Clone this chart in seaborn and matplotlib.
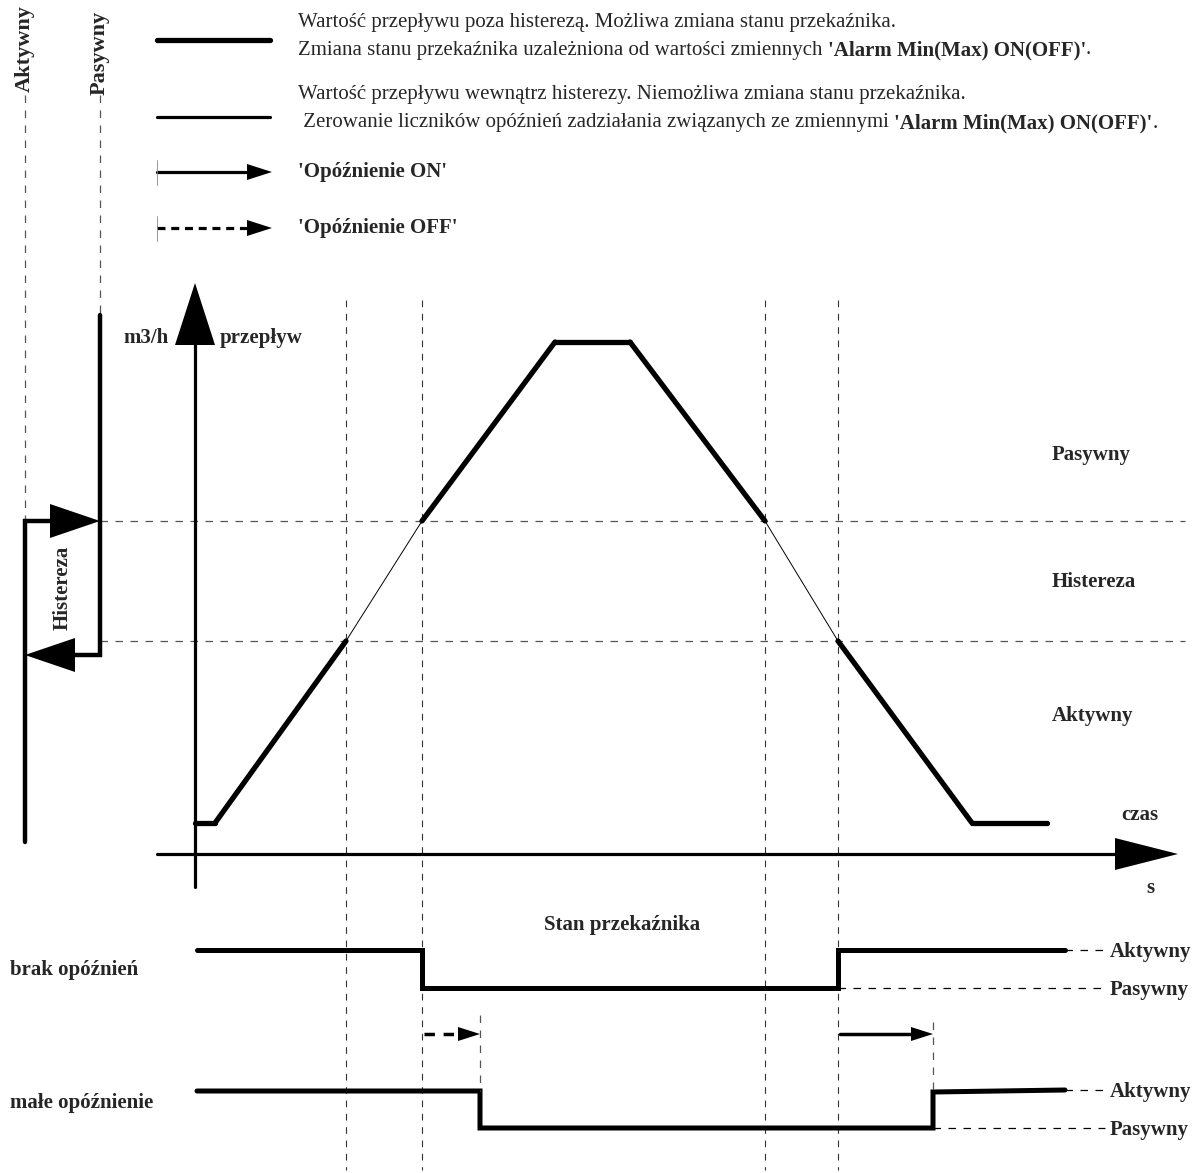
import matplotlib
matplotlib.use("Agg")
import matplotlib.pyplot as plt
import seaborn as sns
import pandas as pd

sns.set_theme(style="white")
plt.rcParams['font.family'] = ['Liberation Serif', 'DejaVu Serif']

# flow curve (pixel coordinates of the sketch, y grows downward)
flow_x = [195, 215, 346, 422, 555, 630, 765, 838, 972, 1047]
flow_y = [823, 823, 641, 521, 342, 342, 521, 641, 823, 823]
flow_thick = [True, True, False, True, True, True, False, True, True]

# hysteresis thresholds and event times
y_upper = 521
y_lower = 641
t_events = [346, 422, 765, 838]

# relay states: no delay / small delay
relay_none_x = [197, 422, 422, 838, 838, 1065]
relay_none_y = [950, 950, 988, 988, 950, 950]
relay_small_x = [197, 480, 480, 933, 933, 1065]
relay_small_y = [1091, 1091, 1128, 1128, 1092, 1090]

legend_lines = [
    ("Wartość przepływu poza histerezą. Możliwa zmiana stanu przekaźnika.",
     "Zmiana stanu przekaźnika uzależniona od wartości zmiennych "),
    ("Wartość przepływu wewnątrz histerezy. Niemożliwa zmiana stanu przekaźnika.",
     " Zerowanie liczników opóźnień zadziałania związanych ze zmiennymi "),
]
bold_tail = "'Alarm Min(Max) ON(OFF)'"

W, H = 1200, 1173
fig = plt.figure(figsize=(W / 100, H / 100), dpi=100)
ax = fig.add_axes([0, 0, 1, 1])
ax.set_xlim(0, W)
ax.set_ylim(H, 0)
ax.axis('off')

FS = 15
grey = '#555555'


def tri(tip, direction, length, half):
    x, y = tip
    if direction == 'right':
        pts = [(x, y), (x - length, y - half), (x - length, y + half)]
    elif direction == 'left':
        pts = [(x, y), (x + length, y - half), (x + length, y + half)]
    else:  # up
        pts = [(x, y), (x - half, y + length), (x + half, y + length)]
    ax.fill([p[0] for p in pts], [p[1] for p in pts], color='black', lw=0)


# ---- dashed guides
for t in t_events:
    ax.plot([t, t], [300, 1170], color='#333333', lw=0.8, ls=(0, (6, 6)))
for yy in [y_upper, y_lower]:
    ax.plot([100, 1185], [yy, yy], color=grey, lw=0.9, ls=(0, (6, 6)))

# ---- flow curve
df = pd.DataFrame({'x': flow_x, 'y': flow_y})
for i, thick in enumerate(flow_thick):
    seg = df.iloc[i:i + 2]
    sns.lineplot(data=seg, x='x', y='y', ax=ax, color='black',
                 lw=3.8 if thick else 0.7, sort=False, estimator=None)
ax.set_xlabel('')
ax.set_ylabel('')
ax.set_xlim(0, W)
ax.set_ylim(H, 0)

# ---- axes arrows
ax.plot([195, 195], [887, 330], color='black', lw=2.3)
tri((195, 283), 'up', 62, 20)
ax.plot([157, 1130], [854, 854], color='black', lw=2.3)
tri((1178, 854), 'right', 63, 16)

ax.text(169, 338, "m3/h", fontsize=FS, fontweight='bold', ha='right', va='center')
ax.text(220, 338, "przepływ", fontsize=FS, fontweight='bold', ha='left', va='center')
ax.text(1140, 815, "czas", fontsize=FS, fontweight='bold', ha='center', va='center')
ax.text(1150, 888, "s", fontsize=FS, fontweight='bold', ha='center', va='center')
ax.text(1052, 455, "Pasywny", fontsize=FS, fontweight='bold', ha='left', va='center')
ax.text(1052, 582, "Histereza", fontsize=FS, fontweight='bold', ha='left', va='center')
ax.text(1052, 716, "Aktywny", fontsize=FS, fontweight='bold', ha='left', va='center')
ax.text(622, 925, "Stan przekaźnika", fontsize=FS, fontweight='bold', ha='center', va='center')

# ---- hysteresis symbol on the left
ax.plot([25, 25], [95, 521], color=grey, lw=0.9, ls=(0, (6, 6)))
ax.plot([100, 100], [95, 315], color=grey, lw=0.9, ls=(0, (6, 6)))
ax.text(25, 92, "Aktywny", rotation=90, fontsize=FS + 1, fontweight='bold', ha='center', va='bottom')
ax.text(100, 95, "Pasywny", rotation=90, fontsize=FS + 1, fontweight='bold', ha='center', va='bottom')
ax.plot([25, 25, 55], [842, 521, 521], color='black', lw=3.2, solid_joinstyle='miter')
tri((100, 521), 'right', 50, 17)
ax.plot([100, 100, 70], [315, 655, 655], color='black', lw=3.2, solid_joinstyle='miter')
tri((25, 655), 'left', 50, 17)
ax.text(63, 588, "Histereza", rotation=90, fontsize=FS, fontweight='bold', ha='center', va='center')

# ---- relay state diagrams
ax.plot(relay_none_x, relay_none_y, color='black', lw=3.6, solid_joinstyle='miter')
ax.plot(relay_small_x, relay_small_y, color='black', lw=3.6, solid_joinstyle='miter')
for yy in [relay_none_y[-1], relay_small_y[-1]]:
    ax.plot([1065, 1105], [yy, yy], color='black', lw=0.9, ls=(0, (6, 6)))
    ax.text(1110, yy + 2, "Aktywny", fontsize=FS, fontweight='bold', ha='left', va='center')
ax.plot([838, 1105], [988, 988], color='black', lw=0.9, ls=(0, (6, 6)))
ax.text(1110, 990, "Pasywny", fontsize=FS, fontweight='bold', ha='left', va='center')
ax.plot([933, 1105], [1128, 1128], color='black', lw=0.9, ls=(0, (6, 6)))
ax.text(1110, 1130, "Pasywny", fontsize=FS, fontweight='bold', ha='left', va='center')
ax.text(10, 970, "brak opóźnień", fontsize=FS, fontweight='bold', ha='left', va='center')
ax.text(10, 1103, "małe opóźnienie", fontsize=FS, fontweight='bold', ha='left', va='center')

# delay markers
ax.plot([480, 480], [1015, 1091], color=grey, lw=0.9, ls=(0, (6, 6)))
ax.plot([933, 933], [1022, 1091], color=grey, lw=0.9, ls=(0, (6, 6)))
ax.plot([424, 462], [1034, 1034], color='black', lw=2.5, ls=(0, (3, 2.5)))
tri((480, 1034), 'right', 22, 7)
ax.plot([840, 915], [1034, 1034], color='black', lw=2.5)
tri((933, 1034), 'right', 22, 7)

# ---- legend
ax.plot([157, 270], [40, 40], color='black', lw=3.8)
ax.plot([157, 270], [117, 117], color='black', lw=2.3)
ax.plot([157, 250], [172, 172], color='black', lw=2.3)
ax.plot([157, 157], [160, 185], color='#888888', lw=0.6)
tri((272, 172), 'right', 25, 8)
ax.plot([157, 250], [228, 228], color='black', lw=2.3, ls=(0, (2.5, 1.8)))
ax.plot([157, 157], [216, 241], color='#888888', lw=0.6)
tri((272, 228), 'right', 25, 8)

fig.canvas.draw()
renderer = fig.canvas.get_renderer()
for (first, second), y0 in zip(legend_lines, [22, 95]):
    ax.text(298, y0, first, fontsize=FS, ha='left', va='center')
    t = ax.text(298, y0 + 28, second, fontsize=FS, ha='left', va='center')
    x_end = t.get_window_extent(renderer).x1
    b = ax.text(x_end, y0 + 28, bold_tail, fontsize=FS, fontweight='bold', ha='left', va='center')
    x_end = b.get_window_extent(renderer).x1
    ax.text(x_end, y0 + 28, ".", fontsize=FS, ha='left', va='center')

ax.text(298, 172, "'Opóźnienie ON'", fontsize=FS, fontweight='bold', ha='left', va='center')
ax.text(298, 228, "'Opóźnienie OFF'", fontsize=FS, fontweight='bold', ha='left', va='center')

fig.savefig("out.png", dpi=100)
